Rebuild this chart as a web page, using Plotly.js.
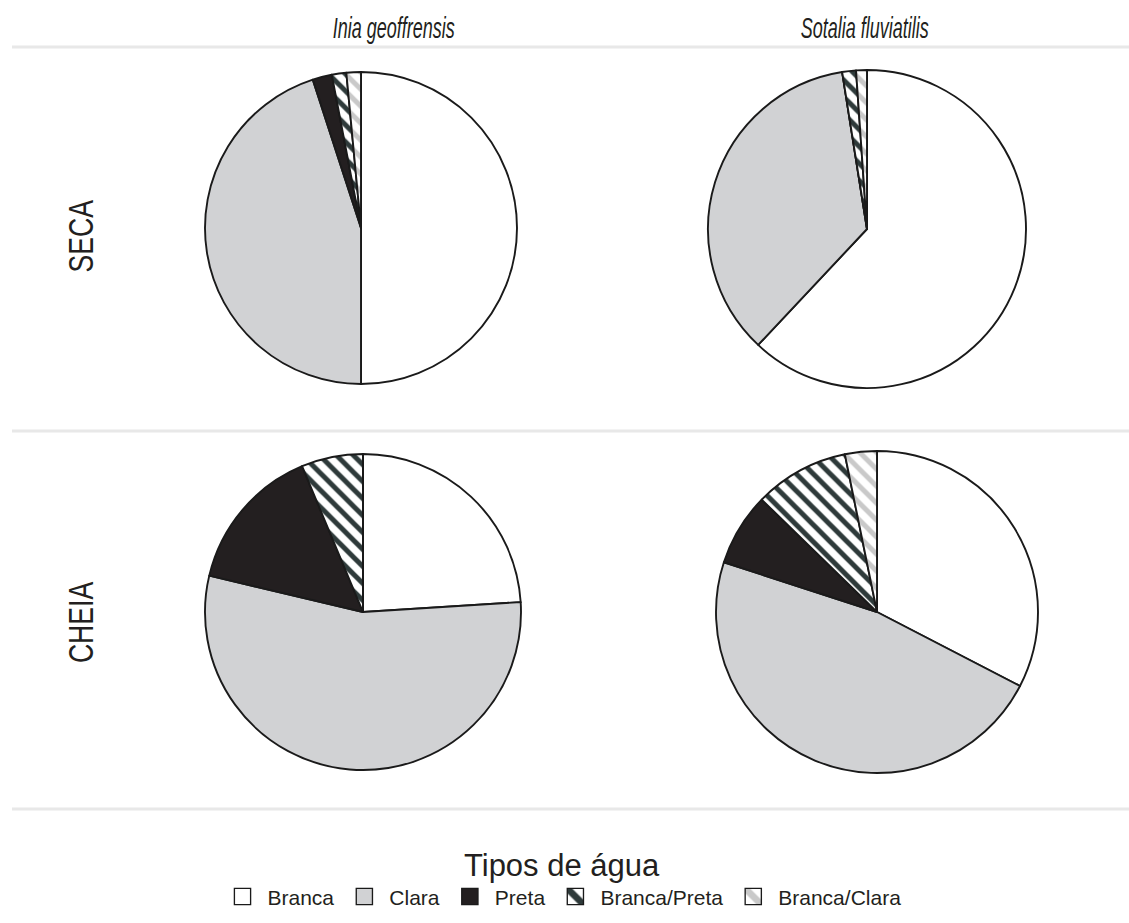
<!DOCTYPE html>
<html>
<head>
<meta charset="utf-8">
<script src="https://cdn.plot.ly/plotly-3.0.1.min.js"></script>
<style>html,body{margin:0;padding:0;background:#fff;}#chart{width:1129px;height:923px;}</style>
</head>
<body>
<div id="chart"></div>
<script>
// ---- data ----
const categories = ['Branca', 'Clara', 'Preta', 'Branca/Preta', 'Branca/Clara'];
const species = ['Inia geoffrensis', 'Sotalia fluviatilis'];
const seasons = ['SECA', 'CHEIA'];
const iniaSeca = [50, 45, 2, 1.5, 1.5];
const sotaliaSeca = [62, 35.5, 0, 1.4, 1.1];
const iniaCheia = [24, 54.7, 15, 6.3, 0];
const sotaliaCheia = [32.6, 47.4, 7.3, 9.5, 3.2];

// ---- layout helpers ----
const W = 1129, H = 923;
function dom(cx, cy, r) {
  return { x: [(cx - r) / W, (cx + r) / W], y: [1 - (cy + r) / H, 1 - (cy - r) / H] };
}
const sliceColors = ['#ffffff', '#d1d2d4', '#231f20', '#ffffff', '#ffffff'];
const pattern = {
  shape: ['', '', '', '\\', '\\'],
  fgcolor: ['#000', '#000', '#000', '#2e3a3a', '#c9c9c9'],
  bgcolor: ['#ffffff', '#d1d2d4', '#231f20', '#ffffff', '#ffffff'],
  fillmode: 'replace',
  size: 12,
  solidity: 0.42
};
function pie(values, d) {
  return {
    type: 'pie', labels: categories, values: values, domain: d,
    sort: false, direction: 'clockwise', rotation: 0,
    textinfo: 'none', hoverinfo: 'label+value',
    marker: { colors: sliceColors, line: { color: '#1a1a1a', width: 1.9 }, pattern: pattern }
  };
}
const data = [
  pie(iniaSeca, dom(361, 228, 156)),
  pie(sotaliaSeca, dom(867, 229, 159)),
  pie(iniaCheia, dom(363, 612, 158)),
  pie(sotaliaCheia, dom(877, 612, 161))
];

const lineYs = [47, 431, 809];
const shapes = lineYs.map(y => ({
  type: 'line', xref: 'paper', yref: 'paper', x0: 12 / W, x1: 1, y0: 1 - y / H, y1: 1 - y / H,
  line: { color: '#e8e8e8', width: 3 }
}));

const titleFont = { family: 'Liberation Sans, Arial, sans-serif', size: 30, color: '#231f20', style: 'italic' };
const rowFont = { family: 'Liberation Sans, Arial, sans-serif', size: 35, color: '#231f20' };
const annotations = [
  { text: species[0], x: 393 / W, y: 1 - 28 / H, xref: 'paper', yref: 'paper', showarrow: false, font: titleFont, xanchor: 'center', yanchor: 'middle' },
  { text: species[1], x: 864 / W, y: 1 - 28 / H, xref: 'paper', yref: 'paper', showarrow: false, font: titleFont, xanchor: 'center', yanchor: 'middle' },
  { text: seasons[0], x: 80 / W, y: 1 - 236 / H, xref: 'paper', yref: 'paper', showarrow: false, font: rowFont, textangle: -90, xanchor: 'center', yanchor: 'middle' },
  { text: seasons[1], x: 80 / W, y: 1 - 622 / H, xref: 'paper', yref: 'paper', showarrow: false, font: rowFont, textangle: -90, xanchor: 'center', yanchor: 'middle' }
];
// horizontal condensing of the (condensed-typeface) labels
const annScale = [0.6, 0.6, 0.76, 0.76];

const layout = {
  width: W, height: H, autosize: false,
  margin: { l: 0, r: 0, t: 0, b: 0 },
  paper_bgcolor: '#ffffff', plot_bgcolor: '#ffffff',
  shapes: shapes, annotations: annotations,
  showlegend: true,
  legend: {
    orientation: 'h', x: 562 / W, xanchor: 'center', y: 1 - 836 / H, yanchor: 'top',
    font: { family: 'Liberation Sans, Arial, sans-serif', size: 21, color: '#231f20' },
    itemwidth: 40,
    title: { text: 'Tipos de água', side: 'top center', font: { family: 'Liberation Sans, Arial, sans-serif', size: 31, color: '#231f20' } },
    traceorder: 'normal', itemclick: false, itemdoubleclick: false
  }
};
Plotly.newPlot('chart', data, layout, { displayModeBar: false, staticPlot: true }).then(gd => {
  gd.querySelectorAll('g.annotation').forEach(g => {
    const i = +g.getAttribute('data-index');
    const t = g.querySelector('text.annotation-text');
    if (!t || !annScale[i]) return;
    const b = t.getBBox();
    const cx = b.x + b.width / 2;
    t.setAttribute('transform', 'translate(' + cx + ',0) scale(' + annScale[i] + ',1) translate(' + (-cx) + ',0)');
  });
  gd.querySelectorAll('.legend .legendpoints path').forEach(p => {
    const tr = p.getAttribute('transform') || '';
    p.setAttribute('transform', tr + ' scale(1.35)');
    p.style.strokeWidth = '1px';
  });
});
</script>
</body>
</html>
